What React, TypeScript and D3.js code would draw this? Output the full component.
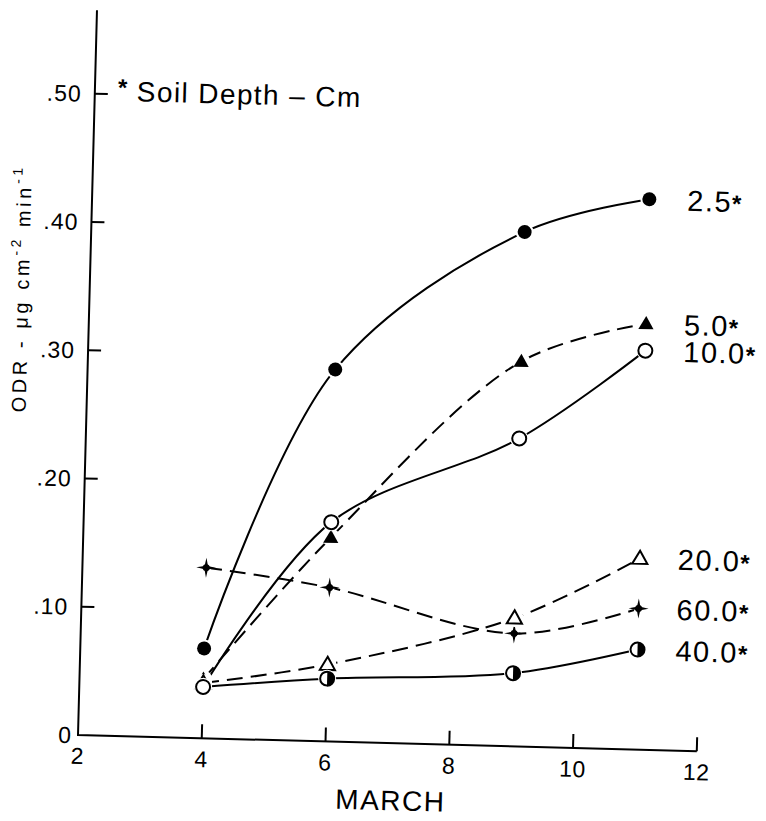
import React from "react";
import { scaleLinear, line, curveCatmullRom, symbol, symbolTriangle } from "d3";

// days in March (x) and ODR values per soil depth (y)
const days = [4, 6, 9, 11];
const depth2_5 = [0.07, 0.29, 0.401, 0.429];
const depth5 = [0.046, 0.159, 0.3, 0.332];
const depth10 = [0.04, 0.171, 0.24, 0.311];
const depth20 = [0.043, 0.06, 0.1, 0.149];
const depth40 = [0.04, 0.049, 0.057, 0.078];
const depth60 = [0.133, 0.12, 0.088, 0.11];

const xTicks = [2, 4, 6, 8, 10, 12];
const yTicks = [0, 0.1, 0.2, 0.3, 0.4, 0.5];
const yTickLabels = ["0", ".10", ".20", ".30", ".40", ".50"];

type Marker = "dot" | "tri" | "circle" | "openTri" | "half" | "star";

const series: { label: string; values: number[]; marker: Marker; dashed: boolean }[] = [
  { label: "60.0", values: depth60, marker: "star", dashed: true },
  { label: "2.5", values: depth2_5, marker: "dot", dashed: false },
  { label: "5.0", values: depth5, marker: "tri", dashed: true },
  { label: "20.0", values: depth20, marker: "openTri", dashed: true },
  { label: "40.0", values: depth40, marker: "half", dashed: false },
  { label: "10.0", values: depth10, marker: "circle", dashed: false },
];

const TILT = 1.5; // the scanned page is slightly rotated
const FONT = "'Liberation Sans', Arial, sans-serif";

const x = scaleLinear().domain([2, 12]).range([78, 697]);
const y = scaleLinear().domain([0, 0.565]).range([735, 10]);

const path = line<[number, number]>()
  .x((d) => x(d[0]))
  .y((d) => y(d[1]))
  .curve(curveCatmullRom.alpha(0.5));

const triPath = symbol().type(symbolTriangle).size(100)() as string;

function starPath(R: number, r: number) {
  const pts: string[] = [];
  for (let i = 0; i < 8; i++) {
    const a = (i * Math.PI) / 4 - Math.PI / 2;
    const rad = i % 2 === 0 ? R : r;
    pts.push(`${(rad * Math.cos(a)).toFixed(2)},${(rad * Math.sin(a)).toFixed(2)}`);
  }
  return "M" + pts.join("L") + "Z";
}

function MarkerShape({ kind }: { kind: Marker }) {
  switch (kind) {
    case "dot":
      return <circle r={7} fill="#000" />;
    case "circle":
      return <circle r={7} fill="#fff" stroke="#000" strokeWidth={2} />;
    case "tri":
      return <path d={triPath} transform="translate(0,1)" fill="#000" />;
    case "openTri":
      return <path d={triPath} transform="translate(0,1)" fill="#fff" stroke="#000" strokeWidth={2} />;
    case "half":
      return (
        <g>
          <circle r={7} fill="#fff" stroke="#000" strokeWidth={2} />
          <path d="M0,-7A7,7 0 0,1 0,7Z" fill="#000" />
        </g>
      );
    case "star":
      return (
        <g>
          <path d={starPath(10, 2.4)} fill="#000" />
          <circle r={3.5} fill="#000" />
        </g>
      );
  }
}

export default function App() {
  const x0 = x(2);
  const y0 = y(0);
  return (
    <svg
      width={766}
      height={821}
      style={{ position: "absolute", left: 0, top: 0 }}
      fontFamily={FONT}
    >
      <rect width={766} height={821} fill="#fff" />
      <g transform={`rotate(${TILT} ${x0} ${y0})`}>
        {/* axes */}
        <path
          d={`M${x0},${y(0.565)}L${x0},${y0}L${x(12)},${y0}`}
          fill="none"
          stroke="#000"
          strokeWidth={2}
        />
        {xTicks.slice(1).map((t) => (
          <line key={t} x1={x(t)} x2={x(t)} y1={y0} y2={y0 - 14} stroke="#000" strokeWidth={2} />
        ))}
        {xTicks.map((t) => (
          <text key={t} x={x(t)} y={y0 + 29} fontSize={23} textAnchor="middle" letterSpacing={0.5}>
            {t}
          </text>
        ))}
        {yTicks.slice(1).map((t) => (
          <line key={t} x1={x0} x2={x0 + 13} y1={y(t)} y2={y(t)} stroke="#000" strokeWidth={2} />
        ))}
        {yTicks.map((t, i) => (
          <text
            key={t}
            x={t === 0 ? 72 : 65}
            y={y(t)}
            dy="0.36em"
            fontSize={23}
            textAnchor="end"
            letterSpacing={1}
          >
            {yTickLabels[i]}
          </text>
        ))}
        <text x={392} y={802} fontSize={28} textAnchor="middle" letterSpacing={1.5}>
          MARCH
        </text>
        <text
          transform="translate(17,290) rotate(-90)"
          fontSize={20}
          textAnchor="middle"
          letterSpacing={3.6}
        >
          ODR - μg cm
          <tspan fontSize={14} dy={-9}>-2</tspan>
          <tspan dy={9}> min</tspan>
          <tspan fontSize={14} dy={-9}>-1</tspan>
        </text>

        {/* legend note */}
        <text x={101} y={95} fontSize={24} fontWeight="bold">*</text>
        <text x={120} y={100} fontSize={28} letterSpacing={1.4}>
          Soil Depth – Cm
        </text>

        {/* curves */}
        {series.map((s) => (
          <path
            key={s.label}
            d={path(days.map((d, i) => [d, s.values[i]] as [number, number])) || ""}
            fill="none"
            stroke="#000"
            strokeWidth={2}
            strokeDasharray={s.dashed ? "16,8" : undefined}
          />
        ))}

        {/* markers with a white halo, as in the drawing */}
        {series.map((s) =>
          days.map((d, i) => (
            <g key={s.label + d} transform={`translate(${x(d)},${y(s.values[i])})`}>
              <circle r={s.marker === "star" ? 5 : 9} fill="#fff" />
              <MarkerShape kind={s.marker} />
            </g>
          ))
        )}

        {/* series labels */}
        {series.map((s) => (
          <text
            key={s.label}
            x={x(11) + 38}
            y={y(s.values[3])}
            dy="0.36em"
            fontSize={29}
            letterSpacing={1.5}
          >
            {s.label}
            <tspan fontSize={24} fontWeight="bold">*</tspan>
          </text>
        ))}
      </g>
    </svg>
  );
}
